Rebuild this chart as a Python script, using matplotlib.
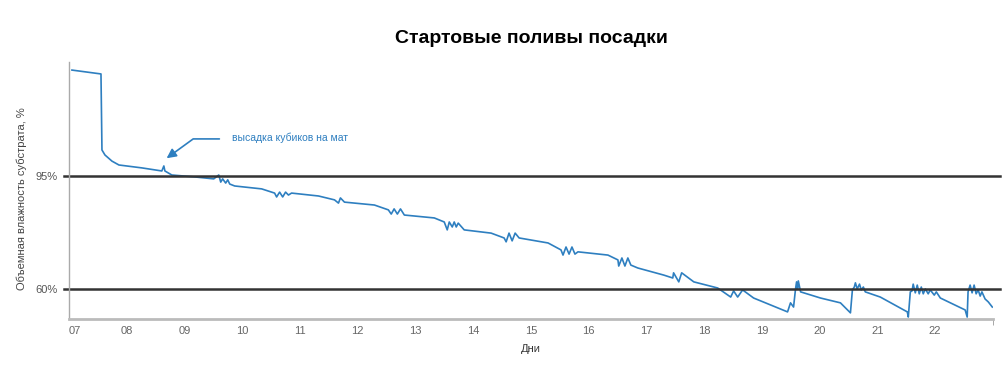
import matplotlib
matplotlib.use("Agg")
import matplotlib.pyplot as plt

plt.rcParams['font.family'] = ['Liberation Sans', 'DejaVu Sans']

# день (дробный) и влажность в условных % (как на шкале графика)
days = [7.05, 7.553, 7.57, 7.57, 7.622, 7.743, 7.864, 8.262, 8.607, 8.642, 8.66,
        8.78, 9.178, 9.506, 9.593, 9.627, 9.66, 9.713, 9.748, 9.783, 9.869,
        10.336, 10.56, 10.595, 10.647, 10.70, 10.75, 10.80, 10.854,
        11.32, 11.597, 11.666, 11.70, 11.77,
        12.289, 12.53, 12.58, 12.63, 12.686, 12.74, 12.807,
        13.326, 13.498, 13.55, 13.585, 13.637, 13.671, 13.706, 13.74, 13.844,
        14.31, 14.535, 14.57, 14.62, 14.674, 14.726, 14.795,
        15.296, 15.52, 15.555, 15.607, 15.66, 15.71, 15.762, 15.814,
        16.333, 16.506, 16.52, 16.575, 16.627, 16.678, 16.73, 16.85,
        17.30, 17.456, 17.47, 17.56, 17.61, 17.82,
        18.234, 18.459, 18.51, 18.58, 18.666, 18.856,
        19.444, 19.495, 19.548, 19.58, 19.60, 19.617, 19.63, 19.67,
        20.014, 20.36, 20.533, 20.567, 20.60, 20.619, 20.65, 20.69, 20.72, 20.757, 20.79,
        21.05, 21.518, 21.535, 21.57, 21.60, 21.62, 21.656, 21.69, 21.725, 21.76,
        21.794, 21.83, 21.88, 21.915, 21.985, 22.02,
        22.09, 22.52, 22.555, 22.57, 22.606, 22.64, 22.675, 22.71, 22.745, 22.78,
        22.81, 22.865, 22.92, 22.99]
moisture = [127.8, 126.6, 103.7, 103.05, 101.5, 99.6, 98.4, 97.5, 96.55, 98.1, 96.55,
            95.3, 94.7, 94.1, 95.3, 93.1, 94.1, 92.8, 93.8, 92.5, 91.9,
            91.0, 89.7, 88.5, 90.0, 88.5, 90.0, 89.1, 89.7,
            88.8, 87.6, 86.6, 88.2, 86.9,
            86.0, 84.5, 83.2, 84.8, 83.2, 84.8, 82.9,
            82.0, 80.75, 78.3, 80.75, 79.2, 80.75, 79.2, 80.4, 78.3,
            77.3, 75.8, 74.6, 77.3, 74.9, 77.3, 75.8,
            74.25, 72.1, 70.5, 73.0, 70.8, 73.0, 70.8, 71.5,
            70.5, 69.0, 67.1, 69.6, 67.1, 69.6, 67.4, 66.5,
            64.3, 63.4, 65.0, 62.2, 65.0, 62.2,
            60.3, 57.5, 59.4, 57.5, 59.7, 57.2,
            52.9, 55.7, 54.4, 59.7, 62.2, 60.0, 62.5, 59.1,
            57.2, 55.7, 52.6, 59.7, 60.6, 61.9, 60.0, 61.5, 59.7, 60.6, 59.1,
            57.5, 52.9, 51.3, 59.1, 59.4, 61.5, 58.8, 61.2, 58.5, 60.6,
            58.5, 60.0, 58.5, 59.7, 58.1, 59.1,
            57.2, 53.5, 51.3, 59.1, 61.2, 58.8, 61.2, 58.5, 59.7, 57.8,
            59.1, 56.9, 56.0, 54.4]

day_ticks = list(range(7, 23))
day_labels = ['%02d' % d for d in day_ticks]
levels = [95, 60]
level_labels = ['95%', '60%']

fig = plt.figure(figsize=(10.08, 3.76), dpi=100)
ax = fig.add_axes([0.0685, 0.1516, 0.9165, 0.6835])

ax.plot(days, moisture, color='#2e7fc0', lw=1.2)

for lv in levels:
    ax.axhline(lv, xmin=-0.006, xmax=1.008, color='#333333', lw=1.8, clip_on=False)

ax.set_xlim(7, 23)
ax.set_ylim(50.7, 130.3)
ax.set_xticks(day_ticks)
ax.set_xticklabels(day_labels)
ax.get_xticklabels()[0].set_horizontalalignment('left')
ax.set_yticks(levels)
ax.set_yticklabels(level_labels)
ax.tick_params(axis='x', length=0, pad=5, labelsize=8, colors='#666666')
ax.tick_params(axis='y', length=0, pad=8, labelsize=8, colors='#555555')
ax.set_xticks([7, 23], minor=True)
ax.tick_params(axis='x', which='minor', length=4, color='#999999')

for s in ['top', 'right']:
    ax.spines[s].set_visible(False)
ax.spines['left'].set_color('#aaaaaa')
ax.spines['left'].set_linewidth(1)
ax.spines['bottom'].set_color('#bbbbbb')
ax.spines['bottom'].set_linewidth(2)

ax.set_xlabel('Дни', fontsize=8, color='#333333', labelpad=6)
ax.set_ylabel('Объемная влажность субстрата, %', fontsize=8, color='#444444')
ax.yaxis.set_label_coords(-0.045, 0.47)
ax.set_title('Стартовые поливы посадки', fontsize=14, fontweight='bold', pad=14)

ax.annotate('высадка кубиков на мат', xy=(8.69, 100.5), xytext=(9.82, 106.8),
            fontsize=7.5, color='#2e7fc0', va='center', ha='left',
            arrowprops=dict(arrowstyle='-|>', color='#2e7fc0', lw=1.2,
                            connectionstyle='angle,angleA=0,angleB=36',
                            relpos=(0, 0.4), shrinkA=7, shrinkB=0,
                            mutation_scale=14))

fig.savefig('out.png', dpi=100)
